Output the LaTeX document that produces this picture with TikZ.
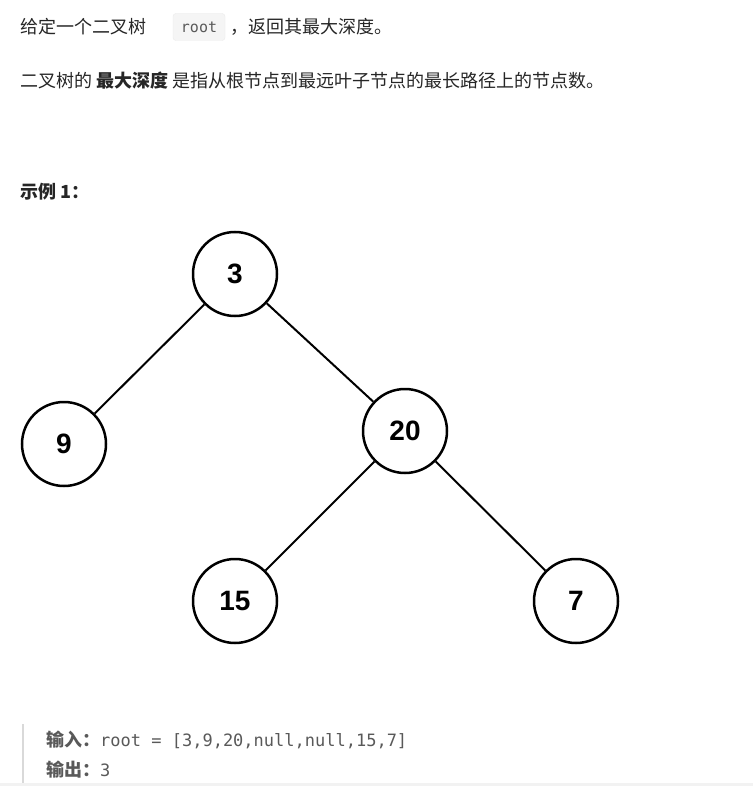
\documentclass[tikz,border=0pt]{standalone}
\usepackage{fontspec}
\setmainfont{Noto Sans CJK SC}
\setmonofont{DejaVu Sans Mono}
\newfontfamily\numf{Liberation Sans}
\definecolor{txt}{HTML}{262626}
\definecolor{gr}{HTML}{595959}
\begin{document}
\begin{tikzpicture}[x=1pt,y=-1pt,
  tn/.style={circle,draw=black,line width=2.5pt,minimum size=84pt,inner sep=0pt,font=\numf\bfseries\fontsize{28}{28}\selectfont},
  ed/.style={line width=2pt},
  tx/.style={anchor=west,inner sep=0pt,text=txt,font=\fontsize{18}{20}\selectfont}]
\useasboundingbox (0,0) rectangle (753,786);
\fill[white] (0,0) rectangle (753,786);
\node[tx] (l1a) at (20,27) {给定一个二叉树};
\node[draw=black!8,fill=black!4,rounded corners=3pt,minimum width=52pt,minimum height=27pt,inner sep=0pt,font=\ttfamily\fontsize{15}{17}\selectfont,text=gr] (code) at (199,27) {root};
\node[tx] (l1b) at (230,27) {，返回其最大深度。};
\node[tx] (l2) at (20,81) {二叉树的 {\bfseries 最大深度} 是指从根节点到最远叶子节点的最长路径上的节点数。};
\node[tx,font=\bfseries\fontsize{18}{20}\selectfont] (ex) at (20,192) {示例 1：};
\node[tn] (a) at (235,274) {3};
\node[tn] (b) at (64,444) {9};
\node[tn] (c) at (405,431) {20};
\node[tn] (d) at (235,601) {15};
\node[tn] (e) at (576,601) {7};
\draw[ed] (a) -- (b); \draw[ed] (a) -- (c);
\draw[ed] (c) -- (d); \draw[ed] (c) -- (e);
\draw[black!15,line width=2.5pt] (23,724) -- (23,784);
\fill[black!5] (0,783) rectangle (753,786);
\node[tx,text=gr] (in) at (46,740) {\bfseries 输入：\mdseries\ttfamily\fontsize{17}{20}\selectfont root = [3,9,20,null,null,15,7]};
\node[tx,text=gr] (out) at (46,770) {\bfseries 输出：\mdseries\ttfamily\fontsize{17}{20}\selectfont 3};
\end{tikzpicture}
\end{document}
